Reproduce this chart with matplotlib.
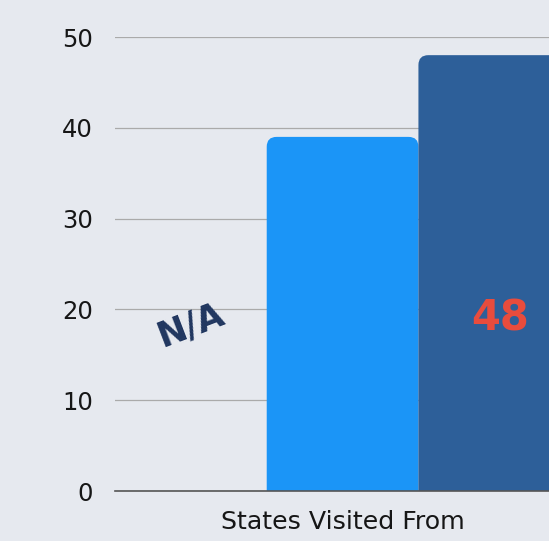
import matplotlib
matplotlib.use("Agg")
from matplotlib import pyplot as plt
from matplotlib.patches import FancyBboxPatch

categories = ["States Visited From"]
series_names = ["Series 1", "Series 2", "Series 3"]
series_values = [None, 39, 48]          # first series has no value -> N/A
series_colors = ["#e6e9ef", "#1b95f7", "#2d5f99"]
y_ticks = [0, 10, 20, 30, 40, 50]

bg = "#e6e9ef"

fig = plt.figure(figsize=(5.49, 5.41), dpi=100)
fig.patch.set_facecolor(bg)
# axes run past the right edge like in the reference (last bar is cut)
ax = fig.add_axes([0.2095, 0.0924, 0.829, 0.8392])
ax.set_facecolor(bg)

n = len(series_values)
positions = [i - (n - 1) / 2 for i in range(n)]
width = 1.0

ax.set_xlim(-n / 2, n / 2)
ax.set_ylim(0, 50)

# rounding size in data units for x, aspect to keep corners circular
r = 0.065
aspect = 16.7
for pos, val, col in zip(positions, series_values, series_colors):
    if val is None:
        ax.text(pos, 18.3, "N/A", rotation=21, ha="center", va="center",
                fontsize=25, fontweight="bold", color="#20365f",
                family="DejaVu Sans")
        continue
    patch = FancyBboxPatch((pos - width / 2, -3), width, val + 3,
                           boxstyle=f"round,pad=0,rounding_size={r}",
                           mutation_aspect=aspect, facecolor=col,
                           edgecolor="none", zorder=3)
    ax.add_patch(patch)

# value label on last bar
ax.text(positions[-1] + 0.04, 19, str(series_values[-1]), ha="center",
        va="center", fontsize=30, fontweight="bold", color="#e84c3d",
        family="DejaVu Sans", zorder=4)

ax.set_yticks(y_ticks)
ax.set_xticks([0])
ax.set_xticklabels(categories)
ax.yaxis.grid(True, color="#aaaaaa", linewidth=0.9)
ax.set_axisbelow(True)
for s in ["top", "right", "left"]:
    ax.spines[s].set_visible(False)
ax.spines["bottom"].set_color("#555555")
ax.spines["bottom"].set_linewidth(1.2)
ax.spines["bottom"].set_zorder(5)
ax.tick_params(axis="both", length=0, labelsize=17.5, colors="#161616")
ax.tick_params(axis="x", labelsize=18.2, pad=14)
ax.tick_params(axis="y", pad=16)
for lab in ax.get_xticklabels() + ax.get_yticklabels():
    lab.set_family("DejaVu Sans")

fig.savefig("out.png", dpi=100, facecolor=bg)
